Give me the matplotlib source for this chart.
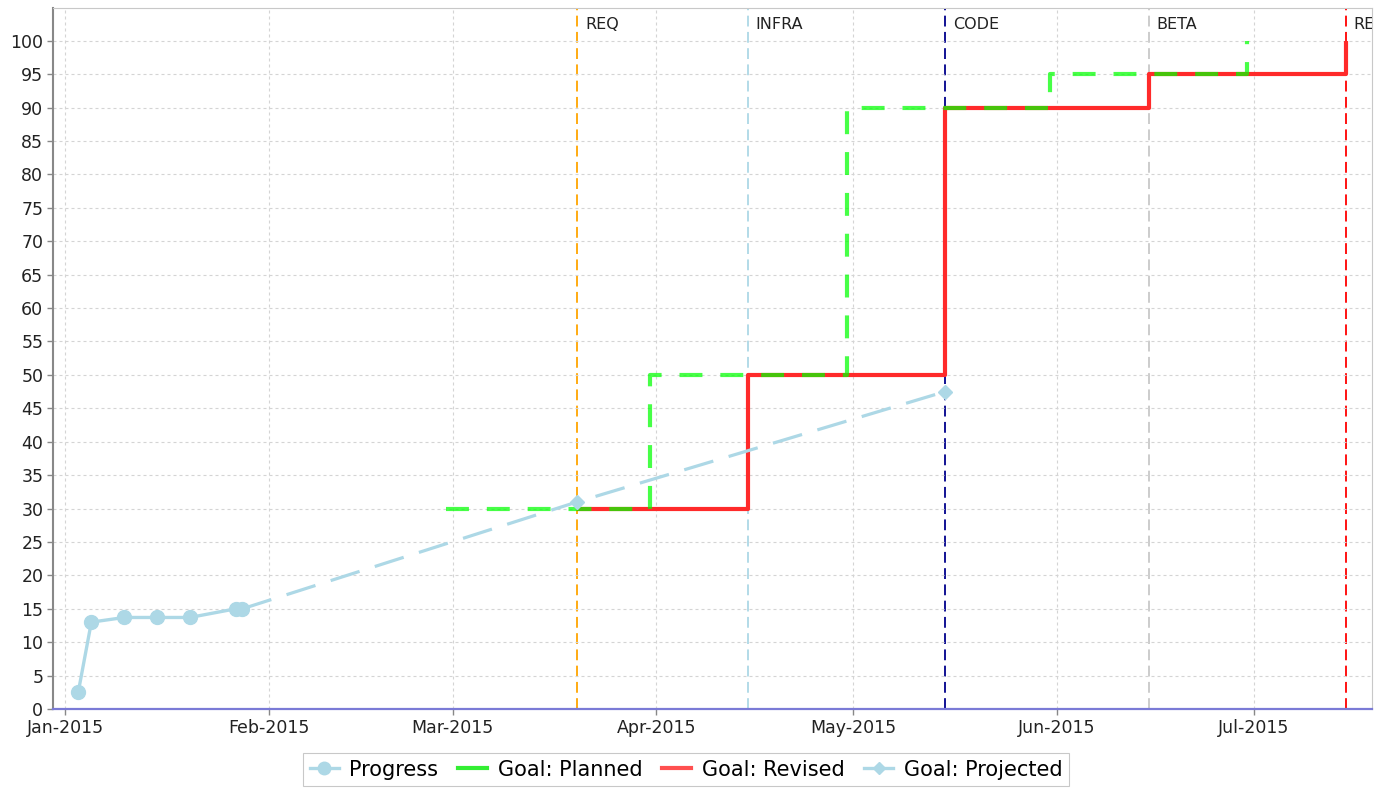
import pandas as pd
import matplotlib
matplotlib.use("Agg")
import matplotlib.pyplot as plt
import matplotlib.dates as mdates
from matplotlib.lines import Line2D

# Progresso real registrado
progress_dates = ['2015-01-03', '2015-01-05', '2015-01-10', '2015-01-15',
                  '2015-01-20', '2015-01-27', '2015-01-28']
progress_vals = [2.5, 13, 13.7, 13.7, 13.7, 15, 15]

# Metas planejadas / revisadas (degraus)
planned_dates = ['2015-02-28', '2015-03-31', '2015-04-30', '2015-05-31', '2015-06-30']
planned_vals = [30, 50, 90, 95, 100]

revised_dates = ['2015-03-20', '2015-04-15', '2015-05-15', '2015-06-15', '2015-07-15']
revised_vals = [30, 50, 90, 95, 100]

# Projeção
projected_dates = ['2015-01-28', '2015-03-20', '2015-05-15']
projected_vals = [15, 31, 47.5]

# Marcos do projeto
milestones = ['REQ', 'INFRA', 'CODE', 'BETA', 'RELEASE']
milestone_dates = ['2015-03-20', '2015-04-15', '2015-05-15', '2015-06-15', '2015-07-15']
milestone_colors = ['#ffa500', '#add8e6', '#00008b', '#c8c8c8', '#ff0000']

plt.rcParams['font.family'] = ['DejaVu Sans']

fig = plt.figure(figsize=(13.85, 7.93), dpi=100)
ax = fig.add_axes([0.0383, 0.1059, 0.9523, 0.884])

pd_ = pd.to_datetime
light_blue = '#add8e6'

# grade
ax.grid(True, color='#d4d4d4', linestyle=(0, (2.7, 2.7)), linewidth=0.8, zorder=0)

# linhas verticais dos marcos (rótulo cortado na borda do gráfico)
for nome, d, c in zip(milestones, milestone_dates, milestone_colors):
    ax.axvline(pd_(d), color=c, linewidth=1.3, linestyle=(0, (6, 3)), zorder=1)
    t = ax.annotate(nome, xy=(pd_(d), 0.976), xycoords=('data', 'axes fraction'),
                    xytext=(5.5, 0), textcoords='offset points',
                    ha='left', va='center', fontsize=11.5, color='#222222')
    t.set_clip_on(True)
    t.set_clip_box(ax.bbox)
    t.set_clip_path(ax.patch)

ax.step(pd_(revised_dates), revised_vals, where='post', color='#ff2a2a',
        linewidth=3.0, zorder=3, solid_capstyle='butt')
ax.step(pd_(planned_dates), planned_vals, where='post', color='#00ff00', alpha=0.72,
        linewidth=3.0, linestyle=(0, (5.5, 4.3)), zorder=4)
ax.plot(pd_(projected_dates), projected_vals, color=light_blue, linewidth=2.3,
        linestyle=(0, (9.5, 5)), marker='D', markersize=7, zorder=5)
ax.plot(pd_(progress_dates), progress_vals, color=light_blue, linewidth=2.4,
        marker='o', markersize=10, zorder=6)

ax.set_ylim(0, 104.9)
ax.set_xlim(pd_('2014-12-30 04:00'), pd_('2015-07-19 00:00'))
ax.set_yticks(range(0, 101, 5))
ax.xaxis.set_major_locator(mdates.MonthLocator())
ax.xaxis.set_major_formatter(mdates.DateFormatter('%b-%Y'))
ax.tick_params(axis='both', labelsize=12.5, colors='#888888', labelcolor='#222222',
               length=4, width=1, pad=3)

for lado in ['top', 'right']:
    ax.spines[lado].set_color('#c8c8c8')
ax.spines['left'].set_color('#888888')
ax.spines['left'].set_linewidth(1.5)
ax.spines['bottom'].set_color('#7a7ad6')
ax.spines['bottom'].set_linewidth(1.6)

handles = [
    Line2D([], [], color=light_blue, linewidth=2.4, marker='o', markersize=9),
    Line2D([], [], color='#33ee33', linewidth=3),
    Line2D([], [], color='#ff5050', linewidth=3),
    Line2D([], [], color=light_blue, linewidth=2.4, marker='D', markersize=6),
]
labels = ['Progress', 'Goal: Planned', 'Goal: Revised', 'Goal: Projected']
leg = fig.legend(handles, labels, loc='lower center', bbox_to_anchor=(686 / 1385, -0.004),
                 ncol=4, fontsize=15, frameon=True, fancybox=False, handlelength=1.4,
                 handletextpad=0.5, columnspacing=0.95, borderpad=0.3)
leg.get_frame().set_edgecolor('#bbbbbb')
leg.get_frame().set_linewidth(0.8)

plt.savefig('out.png', dpi=100)
